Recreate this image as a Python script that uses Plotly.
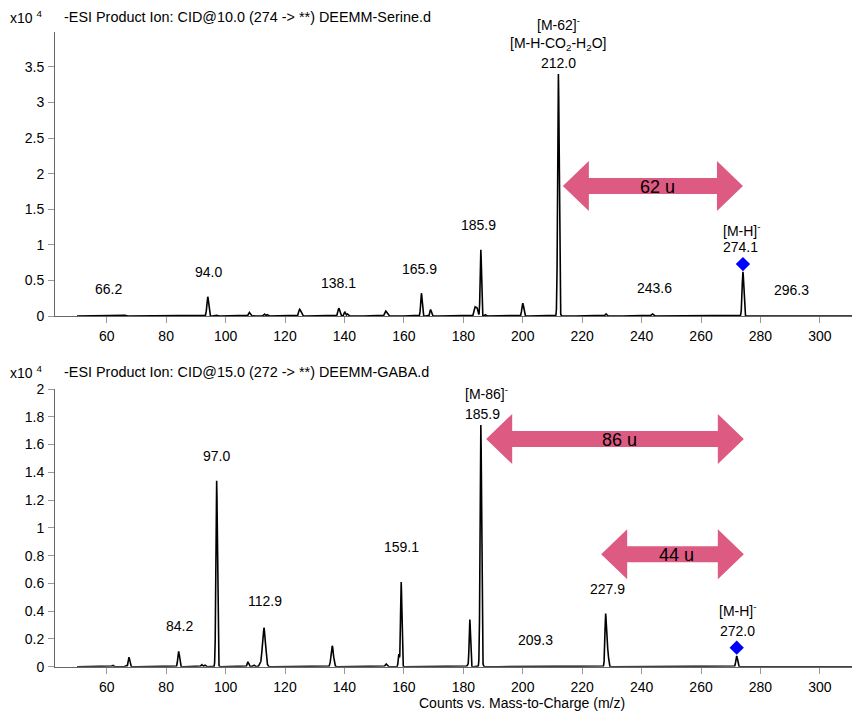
import numpy as np
import plotly.graph_objects as go
from plotly.subplots import make_subplots

# ---------------- data (intensities in x10^4 counts) ----------------
top_mz    = [62.0, 66.2, 94.0, 97.0, 108.0, 113.0, 114.0, 124.9, 125.5, 138.1, 140.1, 141.0,
             153.8, 154.3, 165.9, 169.0, 183.9, 184.6, 185.9, 187.3, 200.0, 212.0, 228.0,
             243.6, 274.1, 296.3]
top_int   = [0.008, 0.012, 0.27, 0.012, 0.05, 0.03, 0.02, 0.09, 0.03, 0.11, 0.06, 0.03,
             0.06, 0.03, 0.32, 0.09, 0.12, 0.11, 0.93, 0.02, 0.18, 3.40, 0.03,
             0.03, 0.62, 0.005]
top_width = [0.25, 0.25, 0.3, 0.25, 0.3, 0.25, 0.25, 0.3, 0.3, 0.3, 0.25, 0.25,
             0.3, 0.3, 0.25, 0.25, 0.3, 0.3, 0.22, 0.25, 0.3, 0.25, 0.25,
             0.3, 0.28, 0.3]

bot_mz    = [62.0, 66.5, 67.5, 84.2, 92.0, 93.0, 97.0, 107.5, 109.5, 111.5, 112.9, 135.9,
             154.0, 158.3, 159.1, 181.5, 182.2, 185.9, 227.9, 228.6, 272.0]
bot_int   = [0.01, 0.01, 0.068, 0.11, 0.015, 0.012, 1.34, 0.035, 0.012, 0.015, 0.28, 0.15,
             0.02, 0.09, 0.61, 0.01, 0.34, 1.74, 0.38, 0.12, 0.077]
bot_width = [0.25, 0.25, 0.25, 0.28, 0.25, 0.25, 0.25, 0.25, 0.25, 0.25, 0.5, 0.4,
             0.3, 0.2, 0.22, 0.25, 0.22, 0.25, 0.25, 0.25, 0.28]

# peak labels: text, x (m/z), y (x10^4)
top_lbl_text = ["66.2", "94.0", "138.1", "165.9", "185.9", "243.6", "296.3", "[M-H]<sup>-</sup>", "274.1"]
top_lbl_x    = [60.7, 94.2, 137.9, 165.2, 185.0, 244.5, 290.5, 273.7, 273.4]
top_lbl_y    = [0.38, 0.62, 0.46, 0.66, 1.28, 0.40, 0.37, 1.21, 0.965]

top_base_text  = ["[M-62]<sup>-</sup>", "[M-H-CO<sub>2</sub>-H<sub>2</sub>O]", "212.0"]
top_base_shift = [50, 30, 11]

bot_lbl_text = ["84.2", "97.0", "112.9", "159.1", "[M-86]<sup>-</sup>", "185.9", "209.3", "227.9",
                "[M-H]<sup>-</sup>", "272.0"]
bot_lbl_x    = [84.4, 97.0, 113.2, 159.2, 187.7, 186.3, 204.3, 228.4, 272.3, 272.1]
bot_lbl_y    = [0.29, 1.52, 0.47, 0.86, 1.97, 1.82, 0.19, 0.56, 0.41, 0.26]

# precursor markers
top_prec = (274.1, 0.73)
bot_prec = (272.0, 0.137)

# mass-difference arrows: (start m/z, end m/z, y, label)
top_arrows = [(213.5, 274.1, 1.826, "62 u")]
bot_arrows = [(187.7, 274.4, 1.64, "86 u"), (226.4, 274.4, 0.81, "44 u")]

titles = ["-ESI Product Ion: CID@10.0 (274 -> **) DEEMM-Serine.d",
          "-ESI Product Ion: CID@15.0 (272 -> **) DEEMM-GABA.d"]
x_title = "Counts vs. Mass-to-Charge (m/z)"

# ---------------- layout constants ----------------
W, H = 852, 711
L = 55
XR = [42.6, 310.8]
top_px = (32, 316)
bot_px = (389, 666.7)
YR_top = [0, 3.99]
YR_bot = [0, 2.0]
FONT = "Liberation Sans, Arial, sans-serif"
PINK = "#DD5B82"

def profile(mz, inten, width):
    x = np.arange(50.0, 311.0, 0.02)
    y = np.zeros_like(x)
    for m, h, s in zip(mz, inten, width):
        y += h * np.exp(-0.5 * ((x - m) / s) ** 2)
    return x, y

fig = make_subplots(rows=2, cols=1, shared_xaxes=False, vertical_spacing=0.1)

for row, (mz, it, wd) in enumerate([(top_mz, top_int, top_width), (bot_mz, bot_int, bot_width)], start=1):
    x, y = profile(mz, it, wd)
    fig.add_trace(go.Scatter(x=x, y=y, mode="lines", line=dict(color="black", width=1.6),
                             hoverinfo="skip", showlegend=False, cliponaxis=True), row=row, col=1)

for row, (px, py) in enumerate([top_prec, bot_prec], start=1):
    fig.add_trace(go.Scatter(x=[px], y=[py], mode="markers",
                             marker=dict(symbol="diamond", size=11, color="#0000FF"),
                             showlegend=False, hoverinfo="skip", cliponaxis=False), row=row, col=1)

pw = W - L
px_per_unit = pw / (XR[1] - XR[0])

def dom(p):
    return [1 - p[1] / H, 1 - p[0] / H]

axis_common = dict(showline=True, linecolor="#666", linewidth=1, ticks="outside", ticklen=6,
                   tickcolor="#999", tickwidth=1, showgrid=False, zeroline=False, automargin=False,
                   tickfont=dict(family=FONT, size=14, color="black"))

fig.update_xaxes(range=XR, dtick=20, tick0=0, ticklabelstandoff=1, **axis_common)
fig.update_yaxes(ticklabelstandoff=1, **axis_common)
fig.update_layout(
    xaxis=dict(domain=[0, 1]), xaxis2=dict(domain=[0, 1]),
    yaxis=dict(domain=dom(top_px), range=YR_top, dtick=0.5, tick0=0),
    yaxis2=dict(domain=dom(bot_px), range=YR_bot, dtick=0.2, tick0=0),
)

annos = []
def lab(text, x, y, xref, yref, size=14, **kw):
    d = dict(text=text, x=x, y=y, xref=xref, yref=yref, showarrow=False, yanchor="middle",
             font=dict(family=FONT, size=size, color="black"))
    d.update(kw)
    annos.append(d)

for t, x, y in zip(top_lbl_text, top_lbl_x, top_lbl_y):
    lab(t, x, y, "x", "y")
base_i = top_int.index(max(top_int))
for t, s in zip(top_base_text, top_base_shift):
    lab(t, top_mz[base_i], top_int[base_i], "x", "y", yshift=s)
for t, x, y in zip(bot_lbl_text, bot_lbl_x, bot_lbl_y):
    lab(t, x, y, "x2", "y2")

# headers
for t, ytop in zip(titles, [17, 372]):
    yp = 1 - ytop / H
    lab("x10 <sup>4</sup>", (8 - L) / pw, yp, "paper", "paper", xanchor="left")
    lab(t, (62 - L) / pw, yp, "paper", "paper", xanchor="left", size=14.4)

lab(x_title, (522 - L) / pw, 1 - 703 / H, "paper", "paper")

shapes = []
head_len = 26 / px_per_unit
def arrow(x0, x1, yc, text, xref, yref):
    hh, sh = 25, 8
    path = (f"M {x0},0 L {x0+head_len},{hh} L {x0+head_len},{sh} L {x1-head_len},{sh} "
            f"L {x1-head_len},{hh} L {x1},0 L {x1-head_len},{-hh} L {x1-head_len},{-sh} "
            f"L {x0+head_len},{-sh} L {x0+head_len},{-hh} Z")
    shapes.append(dict(type="path", path=path, xref=xref, yref=yref, ysizemode="pixel",
                       yanchor=yc, fillcolor=PINK, line=dict(width=0), layer="above"))
    lab(text, (x0 + x1) / 2 + 1.5, yc, xref, yref, size=18, yshift=-1)

for a in top_arrows:
    arrow(*a, "x", "y")
for a in bot_arrows:
    arrow(*a, "x2", "y2")

fig.update_layout(width=W, height=H, margin=dict(l=L, r=0, t=0, b=0, autoexpand=False),
                  paper_bgcolor="white", plot_bgcolor="white",
                  annotations=annos, shapes=shapes,
                  font=dict(family=FONT, size=14, color="black"))

fig.write_html("out.html")
